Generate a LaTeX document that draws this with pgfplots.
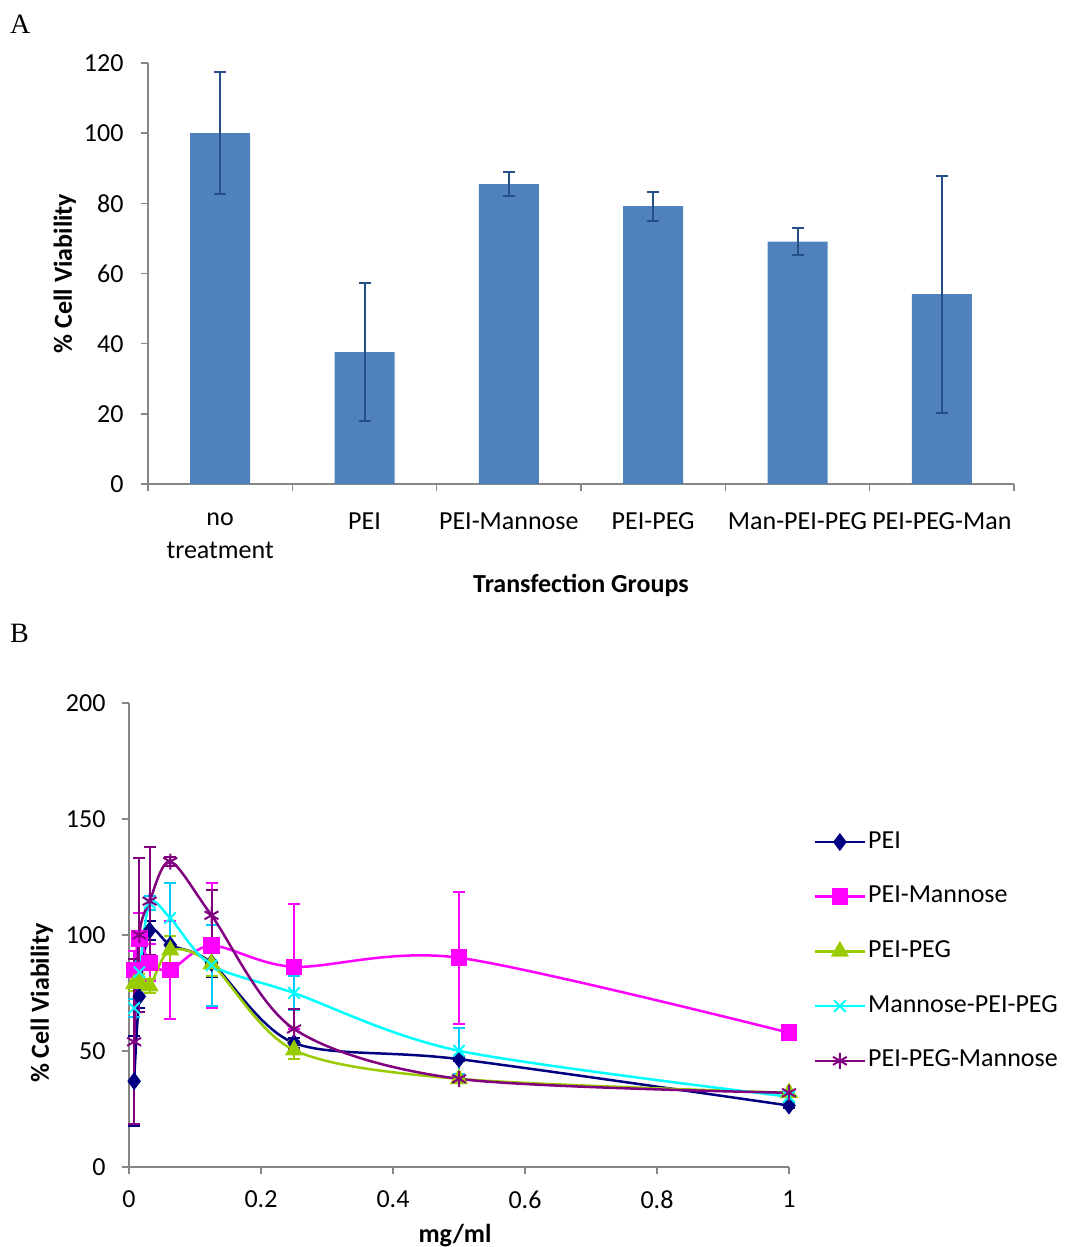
\documentclass[border=0pt]{standalone}
\usepackage{fontspec}
\setmainfont{Carlito}
\newfontfamily\serifA{Liberation Serif}
\usepackage{pgfplots}
\pgfplotsset{compat=1.18}
\definecolor{barblue}{HTML}{4F81BD}
\definecolor{errblue}{HTML}{264F87}
\definecolor{axgray}{HTML}{868686}
\definecolor{cnavy}{HTML}{000080}
\definecolor{cmag}{HTML}{FF00FF}
\definecolor{cgreen}{HTML}{99CC00}
\definecolor{ccyan}{HTML}{00FFFF}
\definecolor{ccyanerr}{HTML}{00CCFF}
\definecolor{cpurp}{HTML}{800080}
\newcommand\fs{\fontsize{26}{33}\selectfont}

\pgfplotstableread{
x y e
0 100.0 17.4
1 37.6 19.6
2 85.5 3.4
3 79.2 4.1
4 69.1 3.8
5 54.1 33.8
}\barsA

\pgfplotstableread{
x y e
0.0078125 37.0 19.3
0.015625 73.5 5
0.03125 102.0 4
0.0625 95.7 4
0.125 88.0 6
0.25 53.5 2
0.5 46.5 1
1 26.5 1
}\pei

\pgfplotstableread{
x y e
0.0078125 85.0 8
0.015625 98.6 11
0.03125 88.0 8
0.0625 85.0 21
0.125 95.4 27
0.25 86.3 27
0.5 90.2 28.5
1 57.9 1
}\peiman

\pgfplotstableread{
x y e
0.0078125 79.0 3
0.015625 80.0 3
0.03125 78.0 3
0.0625 93.5 6
0.125 87.5 5
0.25 50.4 4
0.5 38.0 1
1 32.0 1
}\peipeg

\pgfplotstableread{
x y e
0.0078125 68.5 4
0.015625 84.0 5
0.03125 113.8 3
0.0625 107.3 15
0.125 87.0 17.5
0.25 75.0 7.4
0.5 50.1 10
1 30.3 3
}\manpeipeg

\pgfplotstableread{
x y e
0.0078125 54.0 35.5
0.015625 100.0 33
0.03125 114.6 23.4
0.0625 131.6 2
0.125 108.5 11
0.25 59.5 8.5
0.5 38.0 1
1 32.0 1
}\peipegman

\begin{document}
\begin{tikzpicture}
\useasboundingbox (0,0) rectangle (1067pt,-1247pt);
\node[anchor=base west,inner sep=0] at (10pt,-34pt) {\fontsize{28}{30}\selectfont\serifA A};
\node[anchor=base west,inner sep=0] at (10pt,-642pt) {\fontsize{28}{30}\selectfont\serifA B};

\begin{axis}[
 at={(148pt,-484pt)}, anchor=south west, scale only axis,
 width=866pt, height=421pt,
 xmin=-0.5, xmax=5.5, ymin=0, ymax=120, ytick={0,20,...,120},
 axis lines*=left, axis line style={draw=axgray, line width=1.5pt},
 tick align=outside, major tick length=7pt,
 ytick style={draw=axgray, line width=1.5pt},
 xtick={0,...,5},
 xticklabels={no\\treatment,PEI,PEI-Mannose,PEI-PEG,Man-PEI-PEG,PEI-PEG-Man},
 xtick style={draw=none},
 extra x ticks={-0.5,0.5,1.5,2.5,3.5,4.5,5.5}, extra x tick labels={},
 extra x tick style={xtick style={draw=axgray, line width=1.5pt}},
 xticklabel style={align=center, font=\fs, yshift=-18pt},
 yticklabel style={font=\fs, xshift=-14pt},
 /pgf/number format/assume math mode=true,
 ylabel={\bfseries\% Cell Viability},
 ylabel style={font=\fs, at={(axis description cs:-0.096,0.5)}, anchor=center},
 xlabel={\bfseries Transfection Groups},
 xlabel style={font=\fs, at={(axis description cs:0.5,-0.24)}, anchor=center},
]
\addplot[ybar, bar width=60pt, fill=barblue, draw=none,
  error bars/.cd, y dir=both, y explicit,
  error bar style={errblue, line width=2pt},
  error mark options={rotate=90, mark size=6pt, line width=2pt, errblue}]
  table[x=x, y=y, y error=e] {\barsA};
\end{axis}

\begin{axis}[
 at={(129pt,-1167pt)}, anchor=south west, scale only axis,
 width=660pt, height=464pt,
 xmin=0, xmax=1, ymin=0, ymax=200,
 xtick={0,0.2,0.4,0.6,0.8,1}, ytick={0,50,...,200},
 axis lines*=left, axis line style={draw=axgray, line width=1.5pt},
 tick align=outside, major tick length=7pt,
 tick style={draw=axgray, line width=1.5pt},
 ticklabel style={font=\fs},
 xticklabel style={yshift=-13pt},
 yticklabel style={xshift=-13pt},
 /pgf/number format/assume math mode=true,
 ylabel={\bfseries\% Cell Viability},
 ylabel style={font=\fs, at={(axis description cs:-0.132,0.353)}, anchor=center},
 xlabel={\bfseries mg/ml},
 xlabel style={font=\fs, at={(axis description cs:0.494,-0.147)}, anchor=center},
 clip=false,
 legend style={at={(axis description cs:1.037,0.731)}, anchor=north west,
   draw=none, fill=none, font=\fs, inner sep=0pt, row sep=26.7pt,
   nodes={inner sep=2pt, text height=18pt, text depth=6pt}},
 legend cell align=left,
 legend image code/.code={\draw[mark repeat=2,mark phase=2] plot coordinates {(0pt,0pt) (25pt,0pt) (50pt,0pt)};},
 every axis plot/.append style={line width=2.5pt, smooth, tension=0.5},
]
\addplot[cnavy, mark=diamond*, mark size=7pt, mark options={solid},
  error bars/.cd, y dir=both, y explicit,
  error bar style={cnavy, line width=2pt},
  error mark options={rotate=90, mark size=6pt, line width=2pt, cnavy}]
  table[x=x, y=y, y error=e] {\pei};
\addlegendentry{PEI}
\addplot[cmag, mark=square*, mark size=7pt,
  error bars/.cd, y dir=both, y explicit,
  error bar style={cmag, line width=2pt},
  error mark options={rotate=90, mark size=6pt, line width=2pt, cmag}]
  table[x=x, y=y, y error=e] {\peiman};
\addlegendentry{PEI-Mannose}
\addplot[cgreen, mark=triangle*, mark size=8pt,
  error bars/.cd, y dir=both, y explicit,
  error bar style={cgreen, line width=2pt},
  error mark options={rotate=90, mark size=6pt, line width=2pt, cgreen}]
  table[x=x, y=y, y error=e] {\peipeg};
\addlegendentry{PEI-PEG}
\addplot[ccyan, mark=x, mark size=8pt, mark options={line width=2pt},
  error bars/.cd, y dir=both, y explicit,
  error bar style={ccyanerr, line width=2pt},
  error mark options={rotate=90, mark size=6pt, line width=2pt, ccyanerr}]
  table[x=x, y=y, y error=e] {\manpeipeg};
\addlegendentry{Mannose-PEI-PEG}
\addplot[cpurp, mark=asterisk, mark size=8pt, mark options={line width=2pt},
  error bars/.cd, y dir=both, y explicit,
  error bar style={cpurp, line width=2pt},
  error mark options={rotate=90, mark size=6pt, line width=2pt, cpurp}]
  table[x=x, y=y, y error=e] {\peipegman};
\addlegendentry{PEI-PEG-Mannose}
\end{axis}
\end{tikzpicture}
\end{document}
